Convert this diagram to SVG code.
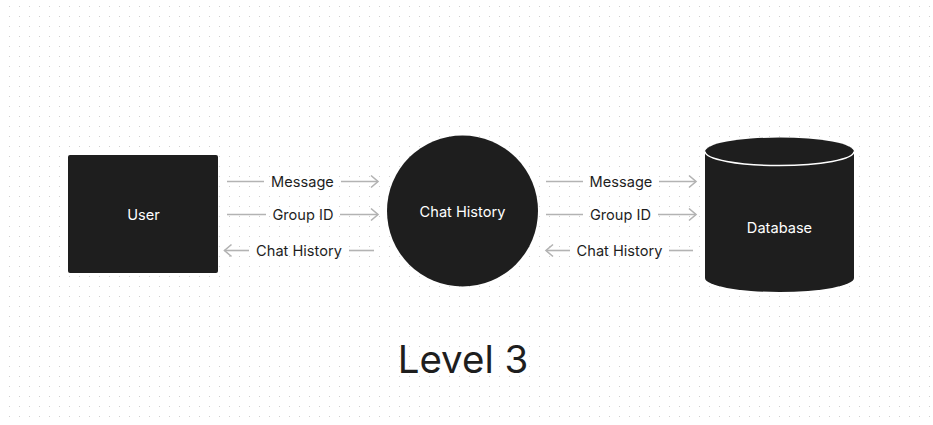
<svg xmlns="http://www.w3.org/2000/svg" width="933" height="425" viewBox="0 0 933 425">
  <defs>
    <pattern id="dots" x="0" y="0" width="10" height="10" patternUnits="userSpaceOnUse">
      <rect x="9" y="6" width="1" height="1" fill="#d0d0d0"/>
    </pattern>
    <marker id="arrow" markerUnits="userSpaceOnUse" markerWidth="12" markerHeight="16" viewBox="-9 -8 12 16" refX="0" refY="0" orient="auto">
      <path d="M-7,-6 L0,0 L-7,6" fill="none" stroke="#b3b3b3" stroke-width="1.6"/>
    </marker>
    <style>
      .node { fill: #1e1e1e; }
      .ntext { font-family: Inter, "Liberation Sans", sans-serif; font-size: 14.6px; fill: #ffffff; text-anchor: middle; }
      .ltext { font-family: Inter, "Liberation Sans", sans-serif; font-size: 14.6px; fill: #1e1e1e; text-anchor: middle; }
      .conn { fill: none; stroke: #b3b3b3; stroke-width: 1.6; }
      .title { font-family: Inter, "Liberation Sans", sans-serif; font-size: 38.5px; fill: #1e1e1e; text-anchor: middle; }
    </style>
  </defs>
  <rect width="933" height="425" fill="#ffffff"/>
  <rect width="933" height="425" fill="url(#dots)"/>

  <g id="user">
    <rect class="node" x="68" y="155" width="150" height="118" rx="2"/>
    <text class="ntext" x="143.5" y="220">User</text>
  </g>

  <g id="chat-history">
    <circle class="node" cx="462.5" cy="211" r="75.5"/>
    <text class="ntext" x="462.5" y="216.5">Chat History</text>
  </g>

  <g id="database">
    <path class="node" d="M705,151.5 L705,278 A74.5,14 0 0 0 854,278 L854,151.5 A74.5,14 0 0 0 705,151.5 Z"/>
    <path d="M705,151.5 A74.5,14 0 0 0 854,151.5" fill="none" stroke="#ffffff" stroke-width="1.5"/>
    <text class="ntext" x="779.5" y="232.5">Database</text>
  </g>

  <g id="connectors">
    <g id="c-user-chat-message">
      <path class="conn" d="M227,181.5 H264"/>
      <path class="conn" d="M341,181.5 H378" marker-end="url(#arrow)"/>
      <text class="ltext" x="302.5" y="186.5">Message</text>
    </g>
    <g id="c-user-chat-groupid">
      <path class="conn" d="M227,214.5 H266"/>
      <path class="conn" d="M340,214.5 H378" marker-end="url(#arrow)"/>
      <text class="ltext" x="303" y="219.5">Group ID</text>
    </g>
    <g id="c-chat-user-history">
      <path class="conn" d="M374,250.5 H349"/>
      <path class="conn" d="M249,250.5 H224.5" marker-end="url(#arrow)"/>
      <text class="ltext" x="299" y="255.5">Chat History</text>
    </g>
    <g id="c-chat-db-message">
      <path class="conn" d="M546,181.5 H583"/>
      <path class="conn" d="M659,181.5 H696" marker-end="url(#arrow)"/>
      <text class="ltext" x="621" y="186.5">Message</text>
    </g>
    <g id="c-chat-db-groupid">
      <path class="conn" d="M546,214.5 H583"/>
      <path class="conn" d="M658,214.5 H696" marker-end="url(#arrow)"/>
      <text class="ltext" x="620.5" y="219.5">Group ID</text>
    </g>
    <g id="c-db-chat-history">
      <path class="conn" d="M693,250.5 H669"/>
      <path class="conn" d="M570,250.5 H546" marker-end="url(#arrow)"/>
      <text class="ltext" x="619.5" y="255.5">Chat History</text>
    </g>
  </g>

  <text class="title" x="463" y="373">Level 3</text>
</svg>
